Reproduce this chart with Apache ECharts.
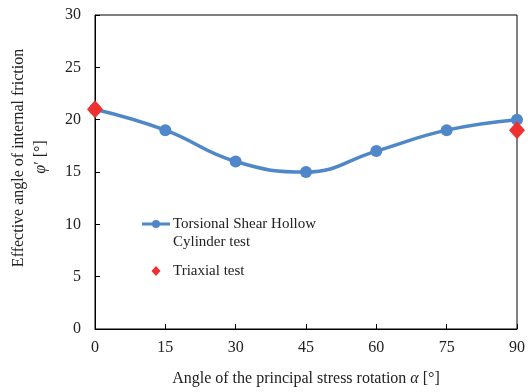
<!DOCTYPE html>
<html>
<head>
<meta charset="utf-8">
<script src="https://cdn.jsdelivr.net/npm/echarts@6/dist/echarts.min.js"></script>
<style>
  html, body { margin: 0; padding: 0; background: #fff; }
  #chart { width: 528px; height: 392px; }
</style>
</head>
<body>
<div id="chart"></div>
<script>
// Principal stress rotation angle (deg)
const rotationAngles = [0, 15, 30, 45, 60, 75, 90];
// Effective friction angle from torsional shear hollow cylinder tests (deg)
const hollowCylinderPhi = [21, 19, 16, 15, 17, 19, 20];
// Triaxial test results: [alpha, phi]
const triaxialAlpha = [0, 90];
const triaxialPhi = [21, 19];
// Axis ticks
const xTicks = [0, 15, 30, 45, 60, 75, 90];
const yTicks = [0, 5, 10, 15, 20, 25, 30];

const FONT = 'Liberation Serif';
const BLUE = '#4F87C9';
const RED = '#EE3030';
const TEXT = '#222';

const chart = echarts.init(document.getElementById('chart'), null, { renderer: 'canvas' });

const axisCommon = {
  axisLine: { show: true, onZero: false, lineStyle: { color: '#000', width: 1 } },
  axisTick: { show: true, inside: true, length: 5, lineStyle: { color: '#000' } },
  splitLine: { show: false },
  axisLabel: { color: TEXT, fontFamily: FONT, fontSize: 16 }
};

const font = (size) => size + 'px "' + FONT + '"';

chart.setOption({
  animation: false,
  grid: { left: 95, right: 10, top: 15, bottom: 58, show: true, borderColor: '#000', borderWidth: 1, containLabel: false },
  xAxis: Object.assign({}, axisCommon, {
    type: 'value',
    min: xTicks[0], max: xTicks[xTicks.length - 1], interval: 15,
    axisLabel: Object.assign({}, axisCommon.axisLabel, { margin: 11 }),
    name: 'Angle of the principal stress rotation {i|α} [°]',
    nameLocation: 'middle', nameGap: 42,
    nameTextStyle: {
      color: TEXT, fontFamily: FONT, fontSize: 16,
      rich: { i: { fontFamily: FONT, fontStyle: 'italic', fontSize: 16, color: TEXT } }
    }
  }),
  yAxis: Object.assign({}, axisCommon, {
    type: 'value',
    min: yTicks[0], max: yTicks[yTicks.length - 1], interval: 5,
    axisLabel: Object.assign({}, axisCommon.axisLabel, { margin: 14 })
  }),
  series: [
    {
      name: 'Torsional Shear Hollow Cylinder test',
      type: 'line',
      data: rotationAngles.map((a, i) => [a, hollowCylinderPhi[i]]),
      smooth: 0.45,
      symbol: 'circle', symbolSize: 12,
      lineStyle: { color: BLUE, width: 3.5 },
      itemStyle: { color: BLUE, opacity: 1 },
      z: 2
    },
    {
      name: 'Triaxial test',
      type: 'scatter',
      data: triaxialAlpha.map((a, i) => [a, triaxialPhi[i]]),
      symbol: 'diamond', symbolSize: [16, 18],
      itemStyle: { color: RED, opacity: 1 },
      z: 3
    }
  ],
  graphic: [
    // rotated y-axis title, two lines
    {
      type: 'text', x: 19, y: 158, rotation: Math.PI / 2,
      style: {
        text: 'Effective angle of internal friction',
        font: font(16), fill: TEXT,
        textAlign: 'center', textVerticalAlign: 'middle'
      }
    },
    {
      type: 'text', x: 41, y: 157, rotation: Math.PI / 2,
      style: {
        text: '{i|φ}′ [°]',
        font: font(16), fill: TEXT,
        textAlign: 'center', textVerticalAlign: 'middle',
        rich: { i: { fontFamily: FONT, fontStyle: 'italic', fontSize: 16, fill: TEXT } }
      }
    },
    // legend: hollow cylinder
    { type: 'line', shape: { x1: 142, y1: 224, x2: 170, y2: 224 }, style: { stroke: BLUE, lineWidth: 3 } },
    { type: 'circle', shape: { cx: 156, cy: 224, r: 4 }, style: { fill: BLUE } },
    { type: 'text', x: 173, y: 224, style: { text: 'Torsional Shear Hollow', font: font(15), fill: TEXT, textVerticalAlign: 'middle' } },
    { type: 'text', x: 173, y: 242, style: { text: 'Cylinder test', font: font(15), fill: TEXT, textVerticalAlign: 'middle' } },
    // legend: triaxial
    { type: 'polygon', shape: { points: [[156, 266], [160.5, 271], [156, 276], [151.5, 271]] }, style: { fill: RED } },
    { type: 'text', x: 173, y: 271, style: { text: 'Triaxial test', font: font(15), fill: TEXT, textVerticalAlign: 'middle' } }
  ]
});
</script>
</body>
</html>
